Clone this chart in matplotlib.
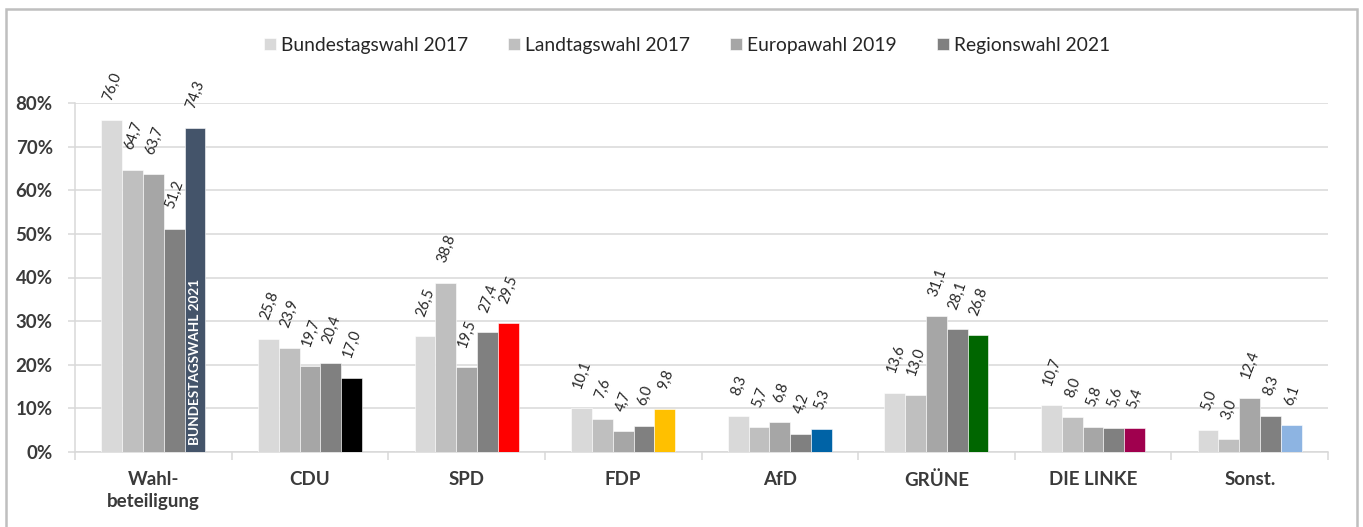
import matplotlib
matplotlib.use("Agg")
import matplotlib.pyplot as plt
from matplotlib.patches import Rectangle
import numpy as np

plt.rcParams['font.family'] = ['Lato', 'DejaVu Sans']

categories = ["Wahl-\nbeteiligung", "CDU", "SPD", "FDP", "AfD", "GRÜNE", "DIE LINKE", "Sonst."]
series_names = ["Bundestagswahl 2017", "Landtagswahl 2017", "Europawahl 2019", "Regionswahl 2021", "Bundestagswahl 2021"]
btw2017 = [76.0, 25.8, 26.5, 10.1, 8.3, 13.6, 10.7, 5.0]
ltw2017 = [64.7, 23.9, 38.8, 7.6, 5.7, 13.0, 8.0, 3.0]
euw2019 = [63.7, 19.7, 19.5, 4.7, 6.8, 31.1, 5.8, 12.4]
rw2021 = [51.2, 20.4, 27.4, 6.0, 4.2, 28.1, 5.6, 8.3]
btw2021 = [74.3, 17.0, 29.5, 9.8, 5.3, 26.8, 5.4, 6.1]
yticks = [0, 10, 20, 30, 40, 50, 60, 70, 80]

grey_colors = ["#D9D9D9", "#BFBFBF", "#A6A6A6", "#808080"]
party_colors = ["#44546A", "#000000", "#FF0000", "#FFC000", "#0063A6", "#006600", "#A0004E", "#8DB4E2"]

fig = plt.figure(figsize=(13.63, 5.27), dpi=100)
ax = fig.add_axes([75/1363, 75/527, (1328-75)/1363, (452-103)/527])

x = np.arange(len(categories))
w = 0.1328
series = [btw2017, ltw2017, euw2019, rw2021, btw2021]
for i, vals in enumerate(series):
    cols = grey_colors[i] if i < 4 else party_colors
    label = series_names[i] if i < 4 else None
    ax.bar(x + (i - 2) * w, vals, width=w, color=cols, label=label,
           edgecolor='white', linewidth=0.4, zorder=3)
    for xi, v in zip(x + (i - 2) * w, vals):
        ax.annotate(f"{v:.1f}".replace('.', ','), (xi, v), xytext=(0.5, 13),
                    textcoords='offset points', ha='center', va='bottom',
                    rotation=70, fontsize=10.5, color='#262626',
                    annotation_clip=False)

ax.text(x[0] + 2 * w, 1.6, "BUNDESTAGSWAHL 2021", rotation=90, ha='center', va='bottom',
        color='white', fontsize=9.7, fontweight='bold', zorder=4)

ax.set_xlim(-0.5, len(categories) - 0.5)
ax.set_ylim(0, 80)
ax.set_yticks(yticks)
ax.set_yticklabels([f"{t}%" for t in yticks], fontsize=13.5, fontweight='bold', color='#3A3A3A')
ax.yaxis.grid(True, color='#D9D9D9', linewidth=1.1, zorder=0)
ax.tick_params(axis='y', length=5, color='#D9D9D9', width=1.1, pad=11)

ax.set_xticks(x)
ax.set_xticklabels(categories, fontsize=13.5, fontweight='bold', color='#3A3A3A', linespacing=1.35)
ax.tick_params(axis='x', length=0, pad=14)
ax.set_xticks(np.arange(-0.5, len(categories) + 0.5, 1), minor=True)
ax.tick_params(axis='x', which='minor', length=6, color='#D9D9D9', width=1.1)

for s in ['top', 'right']:
    ax.spines[s].set_visible(False)
ax.spines['left'].set_color('#D9D9D9')
ax.spines['left'].set_linewidth(1.1)
ax.spines['bottom'].set_color('#D9D9D9')
ax.spines['bottom'].set_linewidth(1.1)

fig.legend(loc='center', bbox_to_anchor=(687/1363, 1 - 45/527), ncol=4, frameon=False,
           fontsize=13.9, handlelength=0.6, handleheight=0.6, handletextpad=0.25,
           columnspacing=2.1, labelcolor='#262626')

fig.patches.append(Rectangle((6/1363, -0.05), (1357-6)/1363, 1.05 - 9/527, transform=fig.transFigure,
                             fill=False, edgecolor='#BFBFBF', linewidth=1.8))

fig.savefig("out.png", dpi=100)
